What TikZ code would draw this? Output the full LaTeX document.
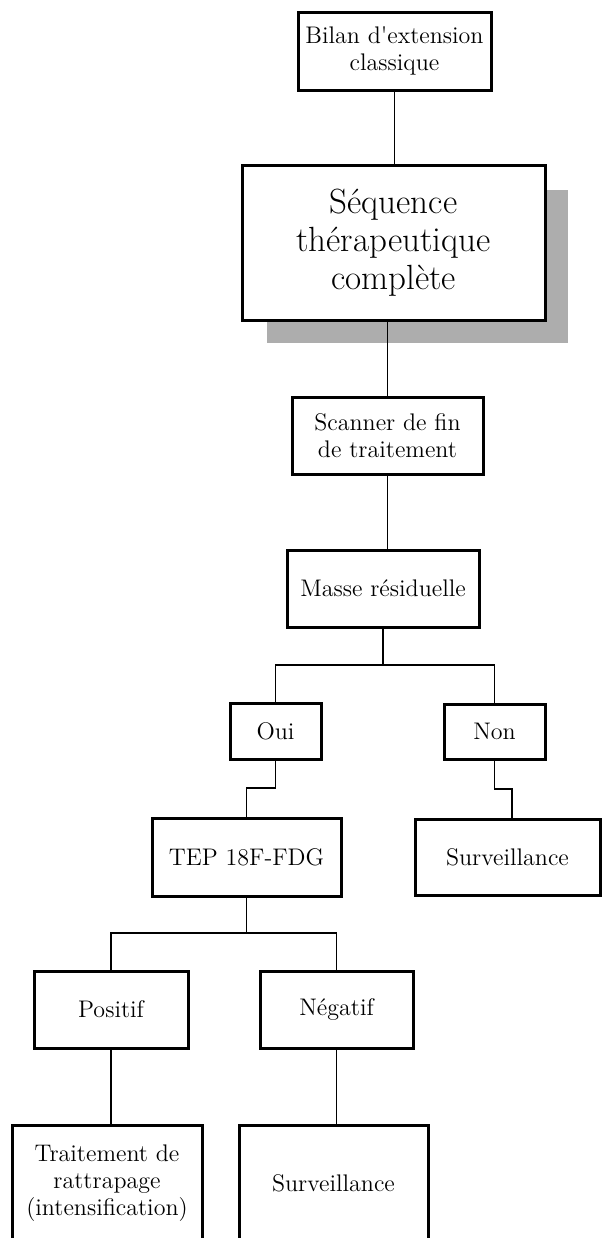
\documentclass[tikz,border=0pt]{standalone}
\usepackage{fontspec}
\begin{document}
\begin{tikzpicture}[x=0.5pt,y=-0.5pt,
  box/.style={draw, line width=1.5pt, inner sep=0pt, align=center, fill=white,
    font=\fontsize{12}{13.5}\selectfont},
  bigbox/.style={box, font=\fontsize{17.5}{19}\selectfont},
  sz/.style 2 args={minimum width=#1*0.5pt, minimum height=#2*0.5pt},
  conn/.style={line width=0.55pt}]
\useasboundingbox (0,0) rectangle (602,1238);
\clip (0,0) rectangle (602,1238);
% shadow
\fill[black!32] (267,190) rectangle (568,343);
% nodes
\node[box, sz={193}{78}] (b1) at (394.5,51) {Bilan d\textquotesingle extension\\classique};
\node[bigbox, sz={303}{155}] (b2) at (393.5,242.5) {Séquence\\thérapeutique\\complète};
\node[box, sz={191}{77}] (b3) at (387.5,435.5) {Scanner de fin\\de traitement};
\node[box, sz={192}{77}] (b4) at (383,588.5) {Masse résiduelle};
\node[box, sz={91}{56}] (oui) at (275.5,731) {Oui};
\node[box, sz={101}{55}] (non) at (494.5,731.5) {Non};
\node[box, sz={189}{78}] (tep) at (246.5,857) {TEP 18F-FDG};
\node[box, sz={185}{76}] (surv1) at (507.5,857) {Surveillance};
\node[box, sz={154}{77}] (pos) at (111,1009.5) {Positif};
\node[box, sz={153}{77}] (neg) at (336.5,1009.5) {Négatif};
\node[box, sz={190}{116}] (trait) at (107,1183) {Traitement de\\rattrapage\\(intensification)};
\node[box, sz={189}{116}] (surv2) at (333.5,1183) {Surveillance};
% connector helper coordinates
\coordinate (s4) at (383,665);
\coordinate (j1) at (275,788);
\coordinate (j2) at (495,789);
\coordinate (j3) at (512,789);
\coordinate (st) at (246.5,933);
% connectors
\draw[conn] (b1.south) -- (b1.south |- b2.north);
\draw[conn] (b3.north |- b2.south) -- (b3.north);
\draw[conn] (b3.south) -- (b3.south |- b4.north);
\draw[conn] (b4.south) -- (s4);
\draw[conn] (oui.north) -- (oui.north |- s4) -- (non.north |- s4) -- (non.north);
\draw[conn] (oui.south) -- (oui.south |- j1) -- (j1 -| tep.north) -- (tep.north);
\draw[conn] (non.south) -- (non.south |- j2) -- (j3) -- (j3 |- surv1.north);
\draw[conn] (tep.south) -- (st);
\draw[conn] (pos.north) -- (pos.north |- st) -- (neg.north |- st) -- (neg.north);
\draw[conn] (pos.south) -- (pos.south |- trait.north);
\draw[conn] (neg.south) -- (neg.south |- surv2.north);
\end{tikzpicture}
\end{document}
